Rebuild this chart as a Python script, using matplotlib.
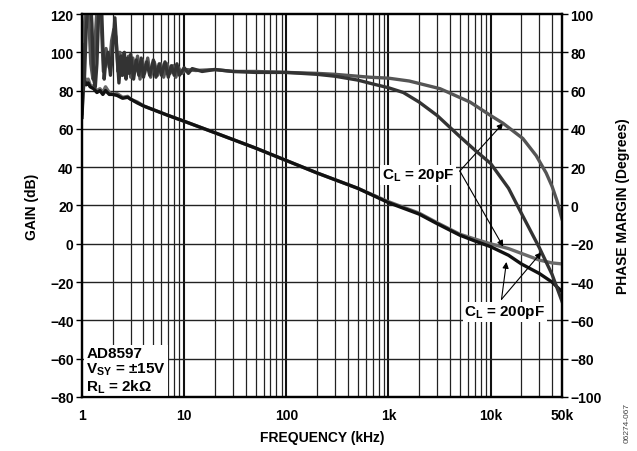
import matplotlib
matplotlib.use("Agg")
import matplotlib.pyplot as plt

plt.rcParams['font.family'] = ['Liberation Sans', 'DejaVu Sans']
plt.rcParams['font.weight'] = 'bold'
plt.rcParams['mathtext.fontset'] = 'custom'
plt.rcParams['mathtext.rm'] = 'Liberation Sans:bold'
plt.rcParams['mathtext.it'] = 'Liberation Sans:bold'
plt.rcParams['mathtext.bf'] = 'Liberation Sans:bold'

# gain (dB) vs frequency (kHz)
freq_gain = [1, 1.03, 1.06, 1.1, 1.15, 1.2, 1.3, 1.4, 1.5, 1.6, 1.7, 1.85, 2, 2.2,
             2.5, 2.8, 3, 3.5, 4, 5, 7, 10, 20, 50,
             100, 200, 500, 1000, 2000, 3000, 5000, 7000, 10000, 15000, 20000,
             30000, 40000, 50000]
gain_20pf = [68, 84, 87, 84, 86, 83, 82, 80, 81, 79, 82, 79, 78, 78.5,
             76.5, 77, 75.5, 74, 72, 70, 67, 64, 58, 50,
             43.5, 37, 29, 22, 16, 11, 5, 2.5, 0, -2.5, -5, -8.5, -10, -10.5]
gain_200pf = [66, 82, 85, 83, 84, 82, 81, 79, 80, 78, 80, 78, 78, 77.5,
              76, 76.5, 75.5, 73.5, 72, 70, 67, 64, 58, 50,
              43.5, 37, 29, 21.5, 15.5, 10.5, 4.5, 1.5, -1.5, -6, -10.5, -15.5, -20, -25]

# phase margin (degrees) vs frequency (kHz)
freq_ph200 = [1.0, 1.03, 1.06, 1.1, 1.15, 1.2, 1.25, 1.3, 1.35, 1.4, 1.45, 1.5, 1.55,
              1.6, 1.65, 1.7, 1.8, 1.9, 2.0, 2.1, 2.2, 2.3, 2.4, 2.5, 2.6, 2.7, 2.8,
              2.9, 3.0, 3.2, 3.4, 3.6, 3.8, 4.0, 4.3, 4.6, 5.0, 5.3, 5.7, 6.0, 6.5,
              7.0, 7.5, 8.0, 8.5, 9.0, 10, 11, 12, 15, 20, 30, 50,
              100, 200, 300, 500, 700, 1000, 1400, 2000, 3000, 5000, 7000, 10000,
              15000, 20000, 30000, 40000, 50000]
phase_200pf = [84, 60, 68, 92, 108, 112, 95, 66, 62, 74, 98, 110, 106,
               84, 66, 74, 80, 68, 82, 98, 80, 64, 78, 68, 80, 66, 77,
               69, 79, 66, 76, 68, 77, 67, 75, 68, 76, 67, 74, 68, 75,
               67, 73, 68, 74, 68, 72, 69, 71.5, 70, 71, 70, 69.5,
               69.5, 68.5, 67.5, 65.5, 63.5, 61.5, 59, 54, 47, 36, 29, 22,
               9, -4, -22, -36, -50]

freq_ph20 = [1.0, 1.02, 1.04, 1.08, 1.12, 1.17, 1.22, 1.28, 1.33, 1.4, 1.48, 1.56,
             1.62, 1.72, 1.85, 1.95, 2.05, 2.15, 2.25, 2.35, 2.45, 2.55, 2.7, 2.85,
             3.0, 3.15, 3.3, 3.5, 3.7, 3.9, 4.1, 4.4, 4.7, 5.1, 5.5, 5.9, 6.3, 6.8,
             7.3, 7.8, 8.3, 8.8, 9.5, 10.5, 13, 20, 30, 50, 100, 200, 300, 650,
             1000, 1600, 3200, 6300, 10000, 13200, 20700, 28000, 35000, 40000,
             45000, 50000]
phase_20pf = [74, 70, 88, 102, 114, 96, 74, 66, 82, 102, 114, 90,
              70, 82, 72, 86, 92, 88, 70, 80, 68, 79, 70, 78,
              67, 77, 70, 78, 66, 76, 69, 77, 67, 75, 68, 74, 67, 74,
              69, 73, 67, 72, 69, 71, 70.5, 71, 70, 70, 69.5, 69, 68.5, 67,
              66.5, 65, 61, 54, 47, 43, 35, 26, 17, 10,
              2, -7]

gain_ticks = [-80, -60, -40, -20, 0, 20, 40, 60, 80, 100, 120]
phase_ticks = [-100, -80, -60, -40, -20, 0, 20, 40, 60, 80, 100]
freq_ticks = [1, 10, 100, 1000, 10000, 50000]
freq_labels = ['1', '10', '100', '1k', '10k', '50k']
minor_freqs = [m * d for d in [1, 10, 100, 1000] for m in range(2, 10)] + [20000, 30000, 40000]

fig = plt.figure(figsize=(6.37, 4.52), dpi=100)
ax = fig.add_axes([0.1287, 0.1195, 0.7535, 0.8473])
ax2 = ax.twinx()

ax.set_xscale('log')
ax.set_xlim(1, 50000)
ax.set_ylim(-80, 120)
ax2.set_ylim(-100, 100)

# grid
for f in minor_freqs:
    ax.axvline(f, color='#222222', lw=0.9, zorder=0)
for f in [10, 100, 1000, 10000]:
    ax.axvline(f, color='#111111', lw=1.5, zorder=0)
for g in gain_ticks[1:-1]:
    ax.axhline(g, color='#222222', lw=1.0, zorder=0)

ax.plot(freq_gain, gain_20pf, color='#6a6a6a', lw=2.4, zorder=3)
ax.plot(freq_gain, gain_200pf, color='#111111', lw=2.4, zorder=4)
ax2.plot(freq_ph20, phase_20pf, color='#555555', lw=2.4)
ax2.plot(freq_ph200, phase_200pf, color='#333333', lw=2.4)

ax.set_xticks(freq_ticks)
ax.set_xticklabels(freq_labels)
ax.xaxis.set_minor_locator(matplotlib.ticker.NullLocator())
ax.tick_params(axis='x', length=0, pad=8, labelsize=10)
ax.set_yticks(gain_ticks)
ax.set_yticklabels([str(v).replace('-', '\u2212') for v in gain_ticks])
ax.tick_params(axis='y', length=4, width=1, labelsize=10, pad=2)
ax2.set_yticks(phase_ticks)
ax2.set_yticklabels([str(v).replace('-', '\u2212') for v in phase_ticks])
ax2.tick_params(axis='y', length=4, width=1, labelsize=10, pad=2)

for a in (ax, ax2):
    for s in a.spines.values():
        s.set_linewidth(1.6)

ax.set_xlabel('FREQUENCY (kHz)', fontsize=10, fontweight='bold', labelpad=6)
ax.set_ylabel('GAIN (dB)', fontsize=10, fontweight='bold', labelpad=8)
ax2.set_ylabel('PHASE MARGIN (Degrees)', fontsize=10, fontweight='bold', labelpad=10)

ax.text(1.1, -79, 'AD8597\nV$_{SY}$ = \u00b115V\nR$_{L}$ = 2k\u03a9', fontsize=11,
        fontweight='bold', va='bottom', ha='left', linespacing=1.05, zorder=5,
        bbox=dict(facecolor='white', edgecolor='none', pad=1.5))

arrow = dict(arrowstyle='-|>', color='black', lw=0.8, mutation_scale=9, shrinkA=0, shrinkB=0)
ax.text(1950, 36, 'C$_{L}$ = 20pF', fontsize=11, ha='center', va='center', zorder=6,
        bbox=dict(facecolor='white', edgecolor='none', pad=1))
ax.annotate('', xy=(13300, 63), xytext=(5000, 38), arrowprops=arrow, zorder=6)
ax.annotate('', xy=(13300, -1.5), xytext=(5000, 38), arrowprops=arrow, zorder=6)
ax.text(13800, -35.5, 'C$_{L}$ = 200pF', fontsize=11, ha='center', va='center', zorder=6,
        bbox=dict(facecolor='white', edgecolor='none', pad=1))
ax.annotate('', xy=(14300, -9.5), xytext=(12800, -29), arrowprops=arrow, zorder=6)
ax.annotate('', xy=(31500, -4.4), xytext=(12800, -29), arrowprops=arrow, zorder=6)

fig.text(0.985, 0.02, '06274-067', rotation=90, fontsize=6, color='#444444',
         fontweight='normal', ha='center', va='bottom')

fig.savefig('out.png', dpi=100)
